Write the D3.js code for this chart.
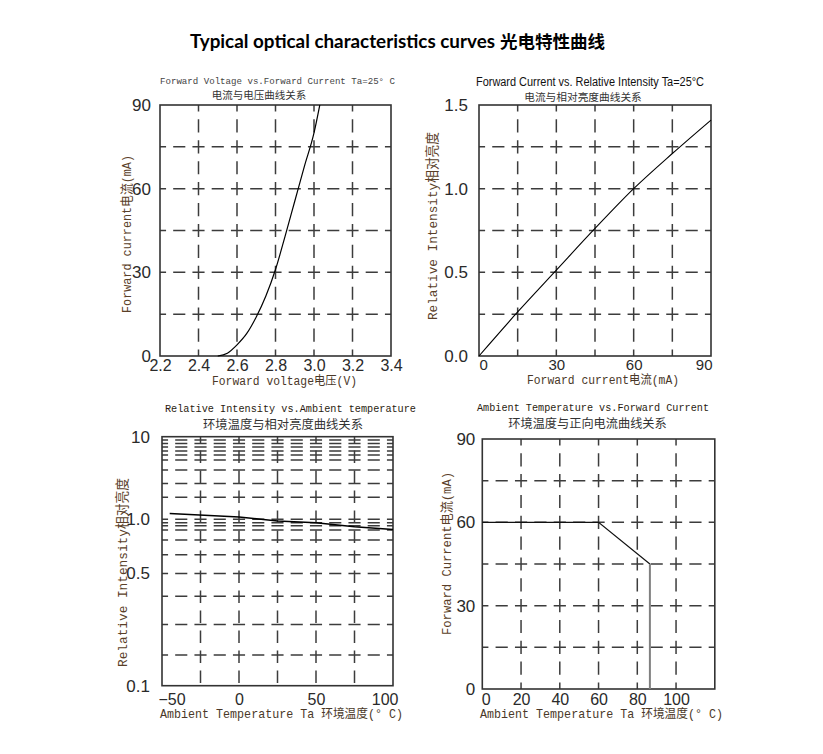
<!DOCTYPE html>
<html><head><meta charset="utf-8">
<script src="https://cdn.jsdelivr.net/npm/d3@7"></script>
<style>body{margin:0;background:#fff}</style>
</head><body>
<svg id="c" width="823" height="754"></svg>
<script>
// ---------- DATA ----------
// Panel 1: Forward Voltage vs Forward Current
const fvVoltage = [2.50, 2.55, 2.60, 2.65, 2.70, 2.75, 2.80, 2.85, 2.90, 2.95, 3.00, 3.03];
const fvCurrent = [0, 1, 4, 8, 14, 21.5, 31, 43, 55.5, 68, 80, 90];
const p1XTicks = [2.2, 2.4, 2.6, 2.8, 3.0, 3.2, 3.4];
const p1YTicks = [0, 30, 60, 90];
const p1XGrid = [2.4, 2.6, 2.8, 3.0, 3.2];
const p1YGrid = [15, 30, 45, 60, 75];

// Panel 2: Forward Current vs Relative Intensity
const riCurrent = [0, 15, 30, 45, 60, 75, 90];
const riIntensity = [0, 0.263, 0.513, 0.762, 1.0, 1.21, 1.41];
const p2XTicks = [0, 30, 60, 90];
const p2YTicks = [0, 0.5, 1.0, 1.5];
const p2XGrid = [15, 30, 45, 60, 75];
const p2YGrid = [0.25, 0.5, 0.75, 1.0, 1.25];

// Panel 3: Relative Intensity vs Ambient temperature
const ambTemp = [-45, 0, 25, 50, 75, 100];
const ambIntensity = [1.18, 1.07, 0.978, 0.957, 0.91, 0.879];
const p3XTicks = [-50, 0, 50, 100];
const p3YTicks = [0.1, 0.5, 1.0, 10];
const p3YTickLabels = ["0.1", "0.5", "1.0", "10"];
const p3XGrid = [-25, 0, 25, 50, 75];
const p3YGrid = [0.155, 0.24, 0.36, 0.5, 0.635, 0.767, 0.872, 0.921, 0.957, 1.0,
                 1.85, 2.71, 3.95, 5.22, 6.0, 6.71, 7.5, 8.27, 9.12];

// Panel 4: Ambient Temperature vs Forward Current (derating)
const derateTemp = [0, 60, 86.5, 86.5];
const derateCurrent = [60, 60, 45, 0];
const p4XTicks = [0, 20, 40, 60, 80, 100];
const p4YTicks = [0, 30, 60, 90];
const p4XGrid = [20, 40, 60, 80, 100];
const p4YGrid = [15, 30, 45, 60, 75];

// ---------- DRAWING ----------
const svg = d3.select("#c");
const MONO = "'Liberation Mono','Noto Sans CJK SC',monospace";
const SANS = "'Liberation Sans',Arial,sans-serif";
const CJK = "'Noto Sans CJK SC',sans-serif";

function txt(x, y, s, o) {
  const t = svg.append("text").attr("x", x).attr("y", y).text(s)
    .attr("font-family", o.font || MONO).attr("font-size", o.size)
    .attr("fill", o.fill || "#333").attr("text-anchor", o.anchor || "middle");
  if (o.weight) t.attr("font-weight", o.weight);
  if (o.len) t.attr("textLength", o.len).attr("lengthAdjust", "spacingAndGlyphs");
  if (o.rot) t.attr("x", 0).attr("y", 0).attr("transform", `translate(${x},${y}) rotate(-90)`);
  return t;
}

function panel(c) {
  const g = svg.append("g");
  const x = c.x, y = c.y;
  const [x0, x1] = x.range(), [yb, yt] = [y.range()[0], y.range()[y.range().length - 1]];
  const gc = "#3c3c3c";
  const hp = c.hPeriod, vp = c.vPeriod;
  const hd = hp * 0.63, vd = vp * 0.63;
  g.selectAll(".hg").data(c.yGrid).join("line")
    .attr("x1", x0).attr("x2", x1).attr("y1", d => y(d)).attr("y2", d => y(d))
    .attr("stroke", gc).attr("stroke-width", 1.5)
    .attr("stroke-dasharray", `${hd},${hp - hd}`).attr("stroke-dashoffset", hd / 2);
  g.selectAll(".vg").data(c.xGrid).join("line")
    .attr("x1", d => x(d)).attr("x2", d => x(d)).attr("y1", yt).attr("y2", yb)
    .attr("stroke", gc).attr("stroke-width", 1.5)
    .attr("stroke-dasharray", `${vd},${vp - vd}`).attr("stroke-dashoffset", vd / 2);
  g.append("rect").attr("x", x0).attr("y", yt).attr("width", x1 - x0).attr("height", yb - yt)
    .attr("fill", "none").attr("stroke", "#333").attr("stroke-width", 1.6);
  const ax = g.append("g").attr("transform", `translate(0,${yb})`)
    .call(d3.axisBottom(x).tickValues(c.xTicks).tickFormat(c.xFmt).tickSize(0).tickPadding(c.xPad));
  const ay = g.append("g").attr("transform", `translate(${x0},0)`)
    .call(d3.axisLeft(y).tickValues(c.yTicks).tickFormat(c.yFmt).tickSize(0).tickPadding(c.yPad));
  [ax, ay].forEach(a => {
    a.select(".domain").remove();
    a.attr("font-family", SANS).attr("fill", "#333");
    a.selectAll("text").attr("fill", "#2a2a2a");
  });
  ax.attr("font-size", c.xSize || 16);
  ay.attr("font-size", 17);
  const xt = ax.selectAll(".tick text");
  if (c.firstStart !== undefined) {
    xt.filter((d, i) => i === 0).attr("text-anchor", "start").attr("dx", c.firstStart);
  }
  if (c.lastEnd !== undefined) {
    xt.filter((d, i, n) => i === n.length - 1).attr("text-anchor", "end").attr("dx", c.lastEnd);
  }
  return g;
}

// ---- Main title
txt(190, 48, "Typical optical characteristics curves", {font: "Lato,'Open Sans',sans-serif", size: 18, weight: 700, fill: "#000", anchor: "start", len: 305});
txt(500, 48, "光电特性曲线", {font: CJK, size: 17.5, weight: 700, fill: "#000", anchor: "start"});

// ---- Panel 1
{
  const x = d3.scaleLinear().domain([2.2, 3.4]).range([160, 391]);
  const y = d3.scaleLinear().domain([0, 90]).range([356, 105]);
  const g = panel({x, y, xGrid: p1XGrid, yGrid: p1YGrid, xTicks: p1XTicks, yTicks: p1YTicks,
    xFmt: d3.format(".1f"), yFmt: d3.format("d"), xPad: 4, yPad: 9,
    hPeriod: (x(2.4) - x(2.2)) / 2, vPeriod: (y(0) - y(15)) / 2});
  g.append("path").datum(fvVoltage.map((v, i) => [v, fvCurrent[i]]))
    .attr("d", d3.line().x(d => x(d[0])).y(d => y(d[1])).curve(d3.curveMonotoneX))
    .attr("fill", "none").attr("stroke", "#000").attr("stroke-width", 1.2);
  txt(277.5, 84, "Forward Voltage vs.Forward Current Ta=25° C", {size: 9.8, len: 235, fill: "#444"});
  txt(259, 99, "电流与电压曲线关系", {font: CJK, size: 10.5, fill: "#333"});
  txt(284.5, 385, "Forward voltage电压(V)", {size: 12.3, len: 145, fill: "#4a3828"});
  txt(131, 234, "Forward current电流(mA)", {size: 12.8, len: 158, fill: "#5a4028", rot: true});
}

// ---- Panel 2
{
  const x = d3.scaleLinear().domain([0, 90]).range([479, 711]);
  const y = d3.scaleLinear().domain([0, 1.5]).range([356, 105]);
  const g = panel({x, y, xGrid: p2XGrid, yGrid: p2YGrid, xTicks: p2XTicks, yTicks: p2YTicks,
    xFmt: d3.format("d"), yFmt: d3.format(".1f"), xPad: 3, yPad: 11, xSize: 15,
    firstStart: 0, lastEnd: 1,
    hPeriod: (x(15) - x(0)) / 2, vPeriod: (y(0) - y(0.25)) / 2});
  g.append("path").datum(riCurrent.map((v, i) => [v, riIntensity[i]]))
    .attr("d", d3.line().x(d => x(d[0])).y(d => y(d[1])).curve(d3.curveMonotoneX))
    .attr("fill", "none").attr("stroke", "#000").attr("stroke-width", 1.1);
  txt(590, 86, "Forward Current vs. Relative Intensity  Ta=25°C", {font: SANS, size: 12, len: 228, fill: "#111"});
  txt(583, 101, "电流与相对亮度曲线关系", {font: CJK, size: 10.7, fill: "#333"});
  txt(603, 384, "Forward current电流(mA)", {size: 12.3, len: 152, fill: "#4a3828"});
  txt(437, 226, "Relative Intensity相对亮度", {size: 13.4, len: 188, fill: "#5a4028", rot: true});
}

// ---- Panel 3
{
  const x = d3.scaleLinear().domain([-50, 100]).range([162, 393]);
  const yb = 685.7, yt = 436.7, h = yb - yt;
  const y = d3.scaleLog().domain([0.1, 0.5, 1, 10]).range([yb, yb - 0.451 * h, yb - 0.668 * h, yt]);
  const g = panel({x, y, xGrid: p3XGrid, yGrid: p3YGrid, xTicks: p3XTicks, yTicks: p3YTicks,
    xFmt: d3.format("d"), yFmt: (d, i) => p3YTickLabels[i], xPad: 8, yPad: 12,
    firstStart: -4, lastEnd: 5,
    hPeriod: (x(-25) - x(-50)) / 2, vPeriod: 20});
  g.append("path").datum(ambTemp.map((v, i) => [v, ambIntensity[i]]))
    .attr("d", d3.line().x(d => x(d[0])).y(d => y(d[1])))
    .attr("fill", "none").attr("stroke", "#000").attr("stroke-width", 1.5);
  txt(290.5, 412, "Relative Intensity vs.Ambient temperature", {size: 11, len: 251, fill: "#2a1c10"});
  txt(283, 429, "环境温度与相对亮度曲线关系", {font: CJK, size: 12.3, fill: "#333"});
  txt(281.5, 718, "Ambient Temperature Ta 环境温度(° C)", {size: 12.4, len: 243, fill: "#4a3828"});
  txt(127, 572.5, "Relative Intensity相对亮度", {size: 13.4, len: 189, fill: "#5a4028", rot: true});
}

// ---- Panel 4
{
  const x = d3.scaleLinear().domain([0, 120]).range([482.3, 714.8]);
  const y = d3.scaleLinear().domain([0, 90]).range([689, 439]);
  const g = panel({x, y, xGrid: p4XGrid, yGrid: p4YGrid, xTicks: p4XTicks, yTicks: p4YTicks,
    xFmt: d3.format("d"), yFmt: d3.format("d"), xPad: 5, yPad: 7,
    firstStart: -1,
    hPeriod: (x(20) - x(0)) / 2, vPeriod: (y(0) - y(15)) / 2});
  const pts = derateTemp.map((v, i) => [v, derateCurrent[i]]);
  const ln = d3.line().x(d => x(d[0])).y(d => y(d[1]));
  g.append("path").datum(pts.slice(0, 3)).attr("d", ln)
    .attr("fill", "none").attr("stroke", "#111").attr("stroke-width", 1.2);
  g.append("path").datum(pts.slice(2)).attr("d", ln)
    .attr("fill", "none").attr("stroke", "#808080").attr("stroke-width", 2);
  txt(593, 411, "Ambient Temperature vs.Forward Current", {size: 11, len: 232, fill: "#2a1c10"});
  txt(587.5, 428, "环境温度与正向电流曲线关系", {font: CJK, size: 12.2, fill: "#333"});
  txt(601.5, 718, "Ambient Temperature Ta 环境温度(° C)", {size: 12.4, len: 243, fill: "#4a3828"});
  txt(451, 553.5, "Forward Current电流(mA)", {size: 13, len: 163, fill: "#5a4028", rot: true});
}
</script>
</body></html>
